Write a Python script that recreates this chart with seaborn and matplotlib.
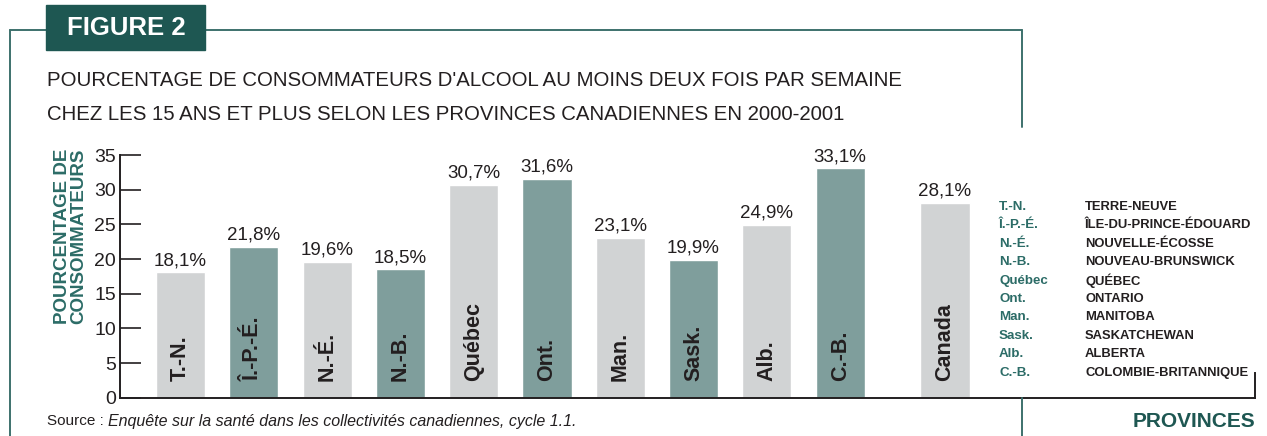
import numpy as np
import pandas as pd
import seaborn as sns
import matplotlib.pyplot as plt
from matplotlib.lines import Line2D
from matplotlib.patches import Rectangle

# data
abbrev = ['T.-N.', 'Î.-P.-É.', 'N.-É.', 'N.-B.', 'Québec', 'Ont.', 'Man.',
          'Sask.', 'Alb.', 'C.-B.', 'Canada']
values = [18.1, 21.8, 19.6, 18.5, 30.7, 31.6, 23.1, 19.9, 24.9, 33.1, 28.1]
positions = [0, 1, 2, 3, 4, 5, 6, 7, 8, 9, 10.43]
full_names = ['TERRE-NEUVE', 'ÎLE-DU-PRINCE-ÉDOUARD', 'NOUVELLE-ÉCOSSE',
              'NOUVEAU-BRUNSWICK', 'QUÉBEC', 'ONTARIO', 'MANITOBA',
              'SASKATCHEWAN', 'ALBERTA', 'COLOMBIE-BRITANNIQUE']
y_ticks = [0, 5, 10, 15, 20, 25, 30, 35]

GREY = '#d1d3d4'
TEAL = '#7f9e9c'
DARK = '#231f20'
GREEN = '#1e5752'
GREEN2 = '#2c6c67'
bar_colors = [GREY if i % 2 == 0 else TEAL for i in range(len(abbrev))]

sns.set_style("white")
plt.rcParams['font.family'] = ['Liberation Sans', 'DejaVu Sans']

W, H = 1267, 436
fig = plt.figure(figsize=(W / 100, H / 100), dpi=100)


def fx(px):
    return px / W


def fy(py):
    return 1 - py / H


ax = fig.add_axes([fx(120), fy(397.7), fx(1255) - fx(120), (397.7 - 155) / H])

df = pd.DataFrame({'pos': positions, 'value': values, 'name': abbrev})
sns.barplot(data=df, x='pos', y='value', hue='name', palette=bar_colors,
            native_scale=True, width=0.67, dodge=False, legend=False,
            saturation=1, errorbar=None, ax=ax)

for p, v, a in zip(positions, values, abbrev):
    ax.text(p, v + 0.45, f"{v:.1f}%".replace('.', ','), ha='center',
            va='bottom', fontsize=13.5, color=DARK)
    ax.text(p, 2.4, a, rotation=90, ha='center', va='bottom',
            fontsize=15.5, fontweight='bold', color=DARK)

ax.set_xlim(-0.825, 14.66)
ax.set_ylim(0, 35)
ax.set_xticks([])
ax.set_yticks(y_ticks)
ax.set_xlabel('')
ax.set_ylabel('')
ax.tick_params(axis='y', direction='in', length=15, width=1.2, pad=3,
               labelsize=14, colors=DARK, left=True)
ax.spines['top'].set_visible(False)
ax.spines['right'].set_bounds(0, 3.5)
for s in ['left', 'bottom', 'right']:
    ax.spines[s].set_color(DARK)
    ax.spines[s].set_linewidth(1.4)

# frame around the figure
frame_kw = dict(transform=fig.transFigure, color='#3d716c', lw=1.4)
fig.add_artist(Line2D([fx(10), fx(10)], [fy(30), 0], **frame_kw))
fig.add_artist(Line2D([fx(10), fx(1022)], [fy(30), fy(30)], **frame_kw))
fig.add_artist(Line2D([fx(1022), fx(1022)], [fy(30), fy(127)], **frame_kw))
fig.add_artist(Line2D([fx(1022), fx(1022)], [fy(398), 0], **frame_kw))

fig.add_artist(Rectangle((fx(46), fy(50)), fx(205) - fx(46), 45 / H,
                         transform=fig.transFigure, color=GREEN, zorder=5))
fig.text(fx(126), fy(28), 'FIGURE 2', color='white', fontsize=18.5,
         fontweight='bold', ha='center', va='center', zorder=6)

fig.text(fx(47), fy(80), "POURCENTAGE DE CONSOMMATEURS D'ALCOOL AU MOINS DEUX FOIS PAR SEMAINE",
         fontsize=14.7, color=DARK, ha='left', va='center')
fig.text(fx(47), fy(115), "CHEZ LES 15 ANS ET PLUS SELON LES PROVINCES CANADIENNES EN 2000-2001",
         fontsize=14.7, color=DARK, ha='left', va='center')

fig.text(fx(71), fy(236), 'POURCENTAGE DE\nCONSOMMATEURS', rotation=90,
         ha='center', va='center', multialignment='center', linespacing=0.95,
         fontsize=13.5, fontweight='bold', color=GREEN2)

# legend of abbreviations
for i, (a, n) in enumerate(zip(abbrev[:10], full_names)):
    y = 207 + i * 18.4
    fig.text(fx(999), fy(y), a, fontsize=9.6, fontweight='bold',
             color=GREEN2, ha='left', va='center')
    fig.text(fx(1085), fy(y), n, fontsize=9.4, fontweight='bold',
             color=DARK, ha='left', va='center')

fig.text(fx(1255), fy(421), 'PROVINCES', fontsize=15, fontweight='bold',
         color=GREEN, ha='right', va='center')

fig.text(fx(47), fy(421), 'Source :', fontsize=11, color=DARK,
         ha='left', va='center')
fig.text(fx(108), fy(421),
         'Enquête sur la santé dans les collectivités canadiennes, cycle 1.1.',
         fontsize=11.5, style='italic', color=DARK, ha='left', va='center')

fig.savefig('out.png', dpi=100, facecolor='white')
